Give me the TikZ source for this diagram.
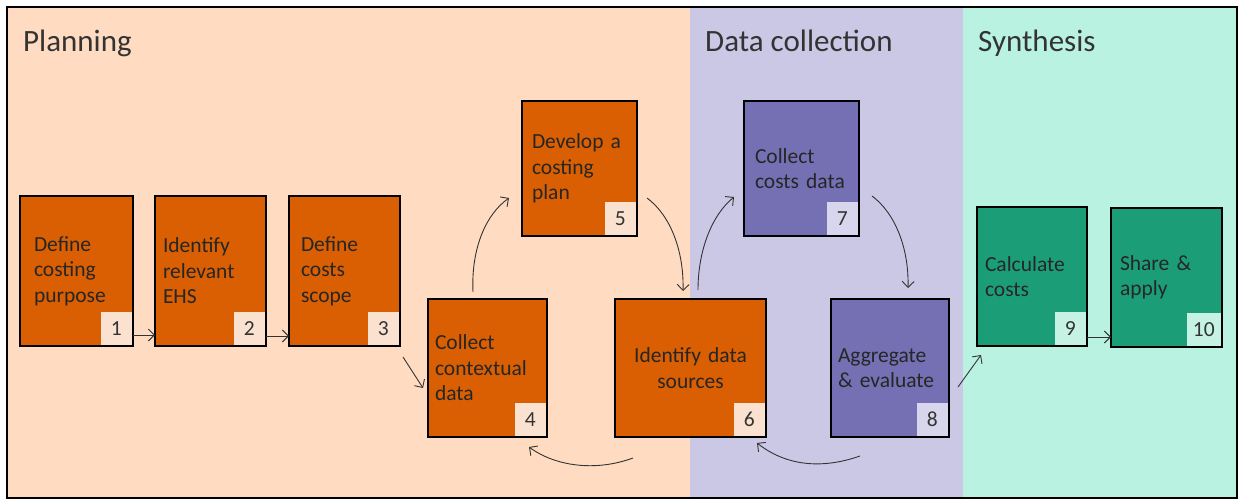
\documentclass[tikz,border=0pt]{standalone}
\usepackage{fontspec}
\setmainfont{Carlito}
\usetikzlibrary{arrows.meta,calc}
\definecolor{bgPlan}{HTML}{FFDCC1}
\definecolor{bgData}{HTML}{CBC8E6}
\definecolor{bgSyn}{HTML}{B9F2E0}
\definecolor{cOrange}{HTML}{D95F02}
\definecolor{cPurple}{HTML}{7570B3}
\definecolor{cGreen}{HTML}{1B9E77}
\definecolor{nOrange}{HTML}{FBE2D0}
\definecolor{nPurple}{HTML}{D8D6EC}
\definecolor{nGreen}{HTML}{C5F2E2}
\begin{document}
\begin{tikzpicture}[x=1pt,y=-1pt,
  stepbox/.style={draw=black, line width=2pt, outer sep=0pt, inner ysep=0pt,
    text=black!85, font=\fontsize{21.5}{25.5}\selectfont, align=left},
  numbox/.style={anchor=south east, inner sep=0pt, minimum width=31pt,
    minimum height=33pt, text=black!80, font=\fontsize{21.5}{25}\selectfont},
  arr/.style={-{Straight Barb[length=6pt,width=12pt]}, line width=0.9pt, draw=black!80},
  ptitle/.style={anchor=base west, inner sep=0pt, text=black!80,
    font=\fontsize{31}{36}\selectfont}]
\useasboundingbox (0,0) rectangle (1239,500);
% backgrounds
\fill[bgPlan] (7,7) rectangle (690,498);
\fill[bgData] (690,7) rectangle (963,498);
\fill[bgSyn] (963,7) rectangle (1237,498);
\draw[line width=2pt] (7,7) rectangle (1237,498);
% titles
\node[ptitle] (t1) at (23,52) {Planning};
\node[ptitle] (t2) at (705,52) {Data collection};
\node[ptitle] (t3) at (978,52) {Synthesis};
% boxes
\node[stepbox, fill=cOrange, text width=85pt, inner xsep=14pt, minimum height=150pt] (b1) at (76.5,271) {Define\\costing\\purpose};
\node[stepbox, fill=cOrange, text width=95pt, inner xsep=8pt, minimum height=150pt] (b2) at (210.5,271) {Identify\\relevant\\EHS};
\node[stepbox, fill=cOrange, text width=87pt, inner xsep=12pt, minimum height=150pt] (b3) at (344.5,271) {Define\\costs\\scope};
\node[stepbox, fill=cOrange, text width=105pt, inner xsep=7pt, minimum height=138pt] (b4) at (487.5,368) {Collect\\contextual\\data};
\node[stepbox, fill=cOrange, text width=95pt, inner xsep=10pt, minimum height=135pt] (b5) at (579.5,168.5) {Develop a\\costing\\plan};
\node[stepbox, fill=cOrange, text width=131pt, inner xsep=10pt, minimum height=138pt, align=center] (b6) at (690.5,368) {Identify data\\sources};
\node[stepbox, fill=cPurple, text width=93pt, inner xsep=11pt, minimum height=135pt] (b7) at (801.5,168.5) {Collect\\costs data};
\node[stepbox, fill=cPurple, text width=104pt, inner xsep=7pt, minimum height=138pt] (b8) at (890,368) {Aggregate\\\& evaluate};
\node[stepbox, fill=cGreen, text width=94pt, inner xsep=8pt, minimum height=139pt] (b9) at (1032,276.5) {Calculate\\costs};
\node[stepbox, fill=cGreen, text width=93pt, inner xsep=9pt, minimum height=139pt] (b10) at (1166.5,277.5) {Share \&\\apply};
% number squares
\node[numbox, fill=nOrange] (n1) at ($(b1.south east)+(-1,-1)$) {1};
\node[numbox, fill=nOrange] (n2) at ($(b2.south east)+(-1,-1)$) {2};
\node[numbox, fill=nOrange] (n3) at ($(b3.south east)+(-1,-1)$) {3};
\node[numbox, fill=nOrange] (n4) at ($(b4.south east)+(-1,-1)$) {4};
\node[numbox, fill=nOrange] (n5) at ($(b5.south east)+(-1,-1)$) {5};
\node[numbox, fill=nOrange] (n6) at ($(b6.south east)+(-1,-1)$) {6};
\node[numbox, fill=nPurple] (n7) at ($(b7.south east)+(-1,-1)$) {7};
\node[numbox, fill=nPurple] (n8) at ($(b8.south east)+(-1,-1)$) {8};
\node[numbox, fill=nGreen] (n9) at ($(b9.south east)+(-1,-1)$) {9};
\node[numbox, fill=nGreen, minimum width=34pt] (n10) at ($(b10.south east)+(-1,-1)$) {10};
% connectors
\draw[arr] ($(b1.south east)+(0,-11)$) -- ($(b2.south west)+(0,-11)$);
\draw[arr] ($(b2.south east)+(0,-10)$) -- ($(b3.south west)+(0,-10)$);
\draw[arr] ($(b9.south east)+(0,-9)$) -- ($(b10.south west)+(0,-10)$);
\draw[arr] ($(b3.south east)+(3,11)$) -- ($(b4.west)+(-5,20)$);
\draw[arr] ($(b4.north)+(-14.5,-7)$) .. controls (471,250) and (485,215) .. ($(b5.west)+(-13,29.5)$);
\draw[arr] ($(b5.east)+(10,29.5)$) .. controls (670,215) and (684,250) .. ($(b6.north)+(-7.5,-8)$);
\draw[arr] ($(b6.north)+(7.5,-9)$) .. controls (698,250) and (712,215) .. ($(b7.west)+(-10,28.5)$);
\draw[arr] ($(b7.east)+(13,27.5)$) .. controls (895,213) and (909,248) .. ($(b8.north)+(18,-11)$);
\draw[arr] ($(b8.east)+(9,19)$) -- ($(b9.south west)+(4,9)$);
\draw[arr] ($(b8.south)+(-30,19)$) .. controls (820,470) and (785,465) .. ($(b6.south east)+(-9,6)$);
\draw[arr] ($(b6.south)+(-57.5,21)$) .. controls (595,472) and (555,466) .. ($(b4.south east)+(-18,10)$);
\end{tikzpicture}
\end{document}
